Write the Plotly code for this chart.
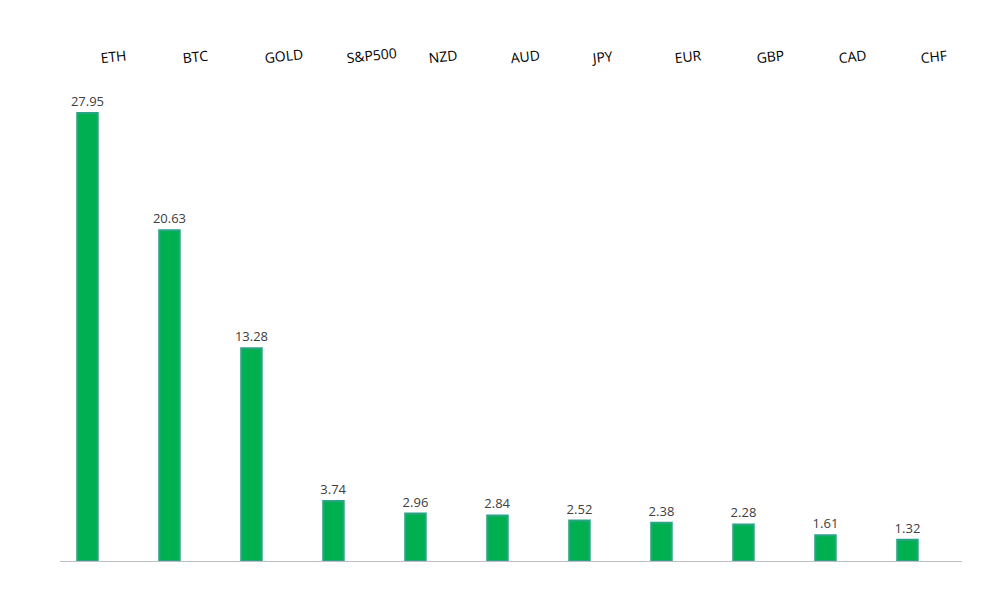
import plotly.graph_objects as go

# asset categories and their values
assets = ["ETH", "BTC", "GOLD", "S&P500", "NZD", "AUD", "JPY", "EUR", "GBP", "CAD", "CHF"]
values = [27.95, 20.63, 13.28, 3.74, 2.96, 2.84, 2.52, 2.38, 2.28, 1.61, 1.32]
value_labels = [f"{v:.2f}" for v in values]

fig = go.Figure()

fig.add_trace(go.Bar(
    x=assets,
    y=values,
    width=0.25,
    marker=dict(color="#00B050", line=dict(color="#2CA386", width=2)),
    text=value_labels,
    textposition="outside",
    constraintext="none",
    textfont=dict(family="Open Sans", size=13, color="#404040"),
    cliponaxis=False,
    hoverinfo="x+y",
))

# page body adds an 8px offset, so margins are shifted to compensate
fig.update_layout(
    width=989,
    height=606,
    margin=dict(l=52, r=35, t=63, b=53),
    plot_bgcolor="white",
    paper_bgcolor="white",
    showlegend=False,
    font=dict(family="Open Sans", size=14, color="#000000"),
)

fig.update_xaxes(
    type="category",
    side="top",
    range=[-0.335, 10.665],
    tickangle=-6,
    ticklabelshift=13,
    ticklabelstandoff=4,
    tickfont=dict(family="Open Sans", size=14, color="#000000"),
    showgrid=False,
    showline=False,
    ticks="",
)

fig.update_yaxes(
    range=[0, 30.57],
    showticklabels=False,
    showgrid=False,
    zeroline=True,
    zerolinecolor="#BFBFBF",
    zerolinewidth=1,
)

fig.write_html("out.html")
